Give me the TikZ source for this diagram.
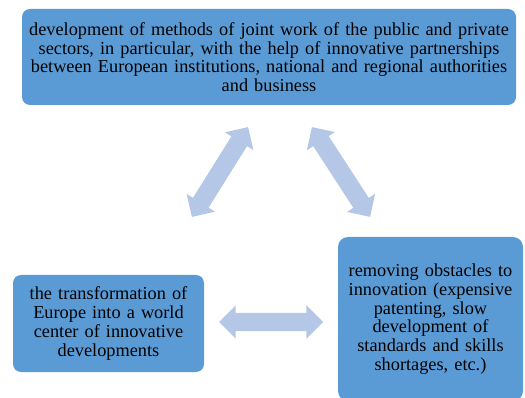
\documentclass[tikz,border=0pt]{standalone}
\usepackage{fontspec}
\setmainfont{Liberation Serif}
\usetikzlibrary{shapes.arrows}
\definecolor{boxblue}{HTML}{5B9BD5}
\definecolor{arrowblue}{HTML}{B4C7E7}
\begin{document}
\begin{tikzpicture}[x=1pt,y=-1pt,
  infobox/.style={fill=boxblue, draw=none, rounded corners=8pt, align=center,
    inner sep=0pt, font=\fontsize{18.3}{18.7}\selectfont, text=black},
  linkarrow/.style={double arrow, fill=arrowblue, draw=none, inner xsep=0pt, inner ysep=9pt,
    minimum width=33pt, double arrow head extend=7.5pt, double arrow tip angle=90}]
\useasboundingbox (0,0) rectangle (525,398);
\begin{scope}
\clip (0,0) rectangle (525,398);
% three goal boxes
\node[infobox, minimum width=494pt, minimum height=96pt, text width=490pt] (top) at (269,57)
  {development of methods of joint work of the public and private\\
   sectors, in particular, with the help of innovative partnerships\\
   between European institutions, national and regional authorities\\
   and business};
\node[infobox, minimum width=191pt, minimum height=97pt, text width=188pt] (left) at (108.5,323.5)
  {the transformation of\\ Europe into a world\\ center of innovative\\ developments};
\node[infobox, rounded corners=10pt, minimum width=185pt, minimum height=164pt, text width=182pt] (right) at (430.5,319)
  {removing obstacles to\\ innovation (expensive\\ patenting, slow\\ development of\\ standards and skills\\ shortages, etc.)};
\end{scope}
% two-way links between the boxes
\node[linkarrow, minimum height=106pt, rotate=58] (aL) at (220,172) {};
\node[linkarrow, minimum height=107pt, rotate=-57] (aR) at (341,172) {};
\node[linkarrow, minimum height=104pt] (aB) at (271,322) {};
\end{tikzpicture}
\end{document}
